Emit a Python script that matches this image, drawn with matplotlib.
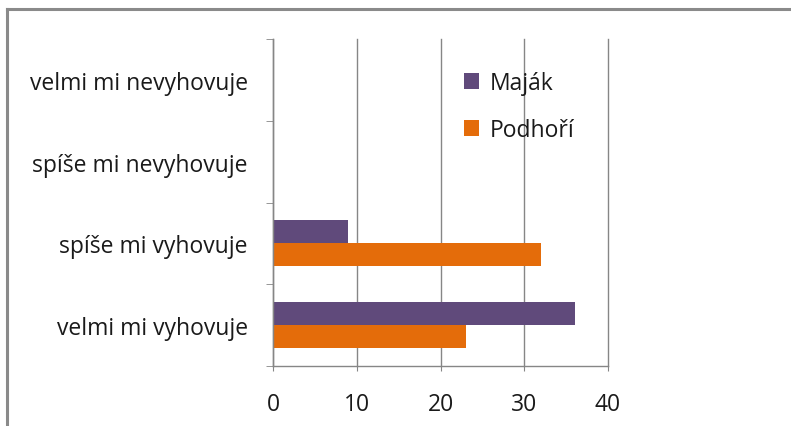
import numpy as np
import matplotlib.pyplot as plt
from matplotlib.lines import Line2D

# -------------------
# Data
# -------------------

categories = ["velmi mi vyhovuje", "spíše mi vyhovuje",
              "spíše mi nevyhovuje", "velmi mi nevyhovuje"]
majak = [36, 9, 0, 0]
podhori = [23, 32, 0, 0]
series_names = ["Maják", "Podhoří"]

purple = "#604A7B"
orange = "#E46C0A"
grid_gray = "#868686"

plt.rcParams['font.family'] = ['Open Sans', 'DejaVu Sans']
fs = 16.5

fig = plt.figure(figsize=(7.91, 4.27), dpi=100)
ax = fig.add_axes([0.3451, 0.1405, 0.7687 - 0.3451, 0.9063 - 0.1405])

y = np.arange(len(categories))
h = 0.28

ax.barh(y + h / 2, majak, height=h, color=purple, label=series_names[0])
ax.barh(y - h / 2, podhori, height=h, color=orange, label=series_names[1])

ax.set_xlim(0, 40)
ax.set_ylim(-0.5, len(categories) - 0.5)
ax.set_xticks([0, 10, 20, 30, 40])
ax.set_xticklabels(["0", "10", "20", "30", "40"])

# category labels sit between the boundary ticks
ax.set_yticks(y)
ax.set_yticklabels(categories)
ax.set_yticks(np.arange(len(categories) + 1) - 0.5, minor=True)
ax.tick_params(axis="y", which="major", length=0, pad=18, labelsize=fs,
               labelcolor="#1a1a1a")
ax.tick_params(axis="y", which="minor", length=5, color=grid_gray,
               direction="out")
ax.tick_params(axis="x", length=3.6, color=grid_gray, labelsize=fs,
               labelcolor="#1a1a1a", pad=15)

ax.grid(axis="x", color=grid_gray, linewidth=1)
for gl in ax.get_xgridlines():
    gl.set_clip_on(False)
ax.set_axisbelow(True)
for s in ["top", "right"]:
    ax.spines[s].set_visible(False)
for s in ["left", "bottom"]:
    ax.spines[s].set_color(grid_gray)
    ax.spines[s].set_linewidth(1)

leg = ax.legend(loc="upper left", bbox_to_anchor=(0.51, 0.965),
                frameon=False, fontsize=fs, handlelength=0.65,
                handleheight=0.65, handletextpad=0.45, labelspacing=1.0)
for t in leg.get_texts():
    t.set_color("#1a1a1a")

# outer frame (left and top edges)
fig.add_artist(Line2D([0.0085, 0.0085], [0.0, 1 - 10 / 427],
                      color="#8a8a8a", linewidth=2.2))
fig.add_artist(Line2D([0.0085, 1.0], [1 - 10 / 427, 1 - 10 / 427],
                      color="#8a8a8a", linewidth=2.2))

fig.savefig("out.png", dpi=100)
